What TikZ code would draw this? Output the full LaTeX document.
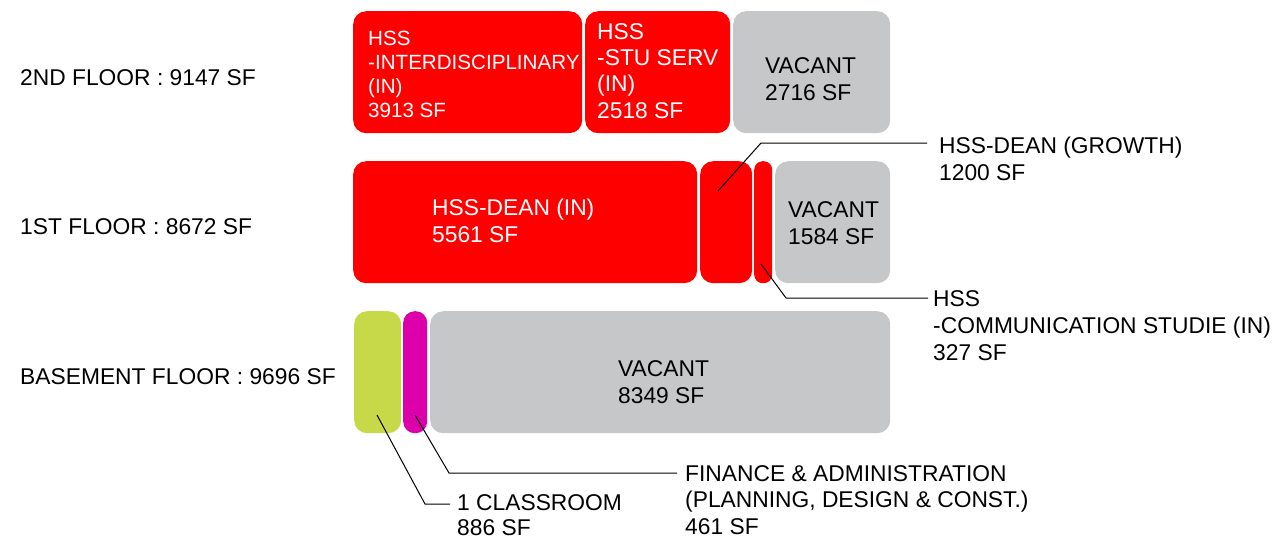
\documentclass[tikz,border=0pt]{standalone}
\usepackage{fontspec}
\setmainfont{Liberation Sans}
\definecolor{hssred}{RGB}{255,0,0}
\definecolor{vacgray}{RGB}{198,199,201}
\definecolor{limegreen}{RGB}{199,217,72}
\definecolor{magentapink}{RGB}{221,0,170}
\tikzset{
  room/.style={draw=none, rounded corners=13pt, inner sep=0pt, anchor=north west, minimum height=122pt},
  lbl/.style={inner sep=0pt, anchor=base west, align=left, font=\fontsize{22.8}{27}\selectfont},
  lblsmall/.style={lbl, font=\fontsize{20.6}{24.2}\selectfont},
  leader/.style={draw=black, line width=1pt},
}
\begin{document}
\begin{tikzpicture}[x=1pt,y=-1pt]
\useasboundingbox (0,0) rectangle (1281,539);
% 2nd floor
\node[room, fill=hssred, minimum width=229pt] (b1) at (353,11) {};
\node[room, fill=hssred, minimum width=145pt] (b2) at (585,11) {};
\node[room, fill=vacgray, minimum width=157pt] (b3) at (733,11) {};
% 1st floor
\node[room, fill=hssred, minimum width=344pt] (a1) at (353,161) {};
\node[room, fill=hssred, minimum width=52pt] (a2) at (700,161) {};
\node[room, fill=hssred, minimum width=18pt, rounded corners=8.5pt] (a3) at (754,161) {};
\node[room, fill=vacgray, minimum width=115pt] (a4) at (775,161) {};
% basement
\node[room, fill=limegreen, minimum width=47pt] (c1) at (354,311) {};
\node[room, fill=magentapink, minimum width=24pt, rounded corners=11.5pt] (c2) at (403,311) {};
\node[room, fill=vacgray, minimum width=460pt] (c3) at (430,311) {};
% floor labels
\node[lbl] (f2) at (20,85) {2ND FLOOR : 9147 SF};
\node[lbl] (f1) at (20,234) {1ST FLOOR : 8672 SF};
\node[lbl] (f0) at (20,384) {BASEMENT FLOOR : 9696 SF};
% box texts (anchored at the baseline of the last line)
\node[lblsmall, white] (t1) at (368,117.6) {HSS\\-INTERDISCIPLINARY\\(IN)\\3913 SF};
\node[lbl, white, font=\fontsize{22.8}{26.3}\selectfont] (t2) at (597,118) {HSS\\-STU SERV\\(IN)\\2518 SF};
\node[lbl] (t3) at (765,100) {VACANT\\2716 SF};
\node[lbl, white] (t4) at (432,242) {HSS-DEAN (IN)\\5561 SF};
\node[lbl] (t5) at (788,244) {VACANT\\1584 SF};
\node[lbl] (t6) at (618,403) {VACANT\\8349 SF};
% callout texts
\node[lbl] (growth) at (939,180) {HSS-DEAN (GROWTH)\\1200 SF};
\node[lbl] (comm) at (933,360) {HSS\\-COMMUNICATION STUDIE (IN)\\327 SF};
\node[lbl, font=\fontsize{22.8}{26.5}\selectfont] (fin) at (685,534) {FINANCE \& ADMINISTRATION\\(PLANNING, DESIGN \& CONST.)\\461 SF};
\node[lbl, font=\fontsize{22.8}{25}\selectfont] (cls) at (457,535) {1 CLASSROOM\\886 SF};
% leader points
\coordinate (gs) at (718,191);
\coordinate (gb) at (761,143);
\coordinate (ge) at (927,143);
\coordinate (cs) at (761,264);
\coordinate (cb) at (786,298);
\coordinate (ce) at (928,298);
\coordinate (fs) at (415,415);
\coordinate (fb) at (449,473);
\coordinate (fe) at (677,473);
\coordinate (ks) at (377,415);
\coordinate (kb) at (425,504);
\coordinate (ke) at (450,504);
\draw[leader] (gs) -- (gb) -- (ge);
\draw[leader] (cs) -- (cb) -- (ce);
\draw[leader] (fs) -- (fb) -- (fe);
\draw[leader] (ks) -- (kb) -- (ke);
\end{tikzpicture}
\end{document}
